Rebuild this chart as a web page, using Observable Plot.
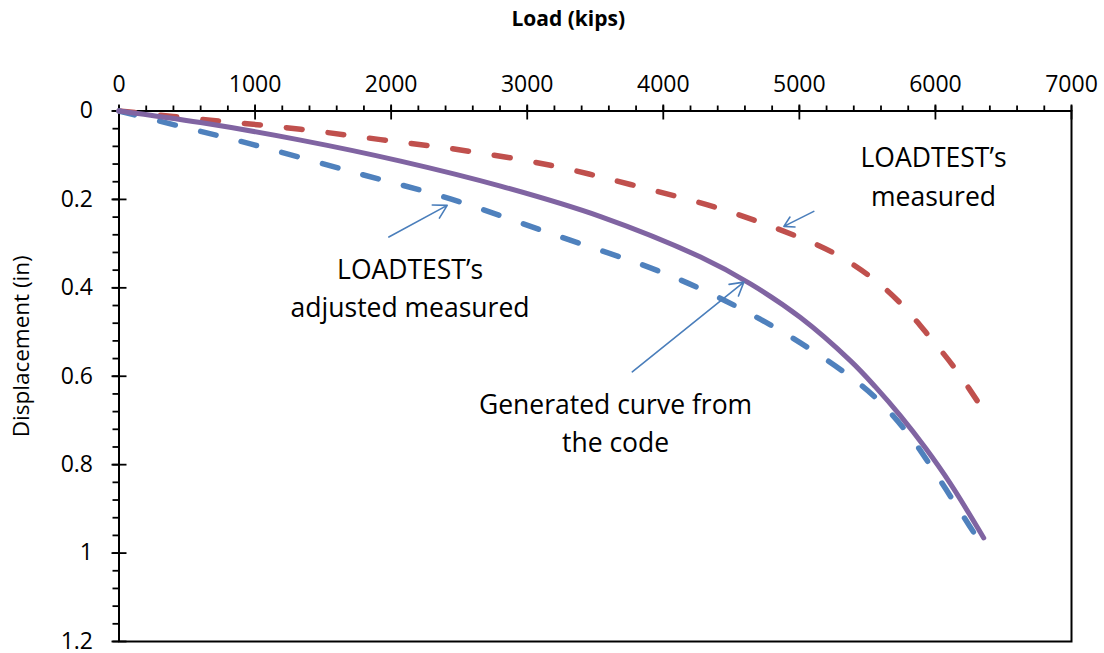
<!DOCTYPE html>
<html><head><meta charset="utf-8">
<script src="https://cdn.jsdelivr.net/npm/d3@7"></script>
<script src="https://cdn.jsdelivr.net/npm/@observablehq/plot@0.6"></script>
<style>body{margin:0;background:#fff} svg{display:block}</style>
</head><body><div id="chart"></div>
<script>
// Axis ticks
const xTicks = [0, 1000, 2000, 3000, 4000, 5000, 6000, 7000];
const xMinorTicks = [0,200,400,600,800,1000,1200,1400,1600,1800,2000,2200,2400,2600,2800,3000,3200,3400,3600,3800,4000,4200,4400,4600,4800,5000,5200,5400,5600,5800,6000,6200,6400,6600,6800,7000];
const yTicks = [0, 0.2, 0.4, 0.6, 0.8, 1, 1.2];
const yMinorTicks = [0,0.04,0.08,0.12,0.16,0.2,0.24,0.28,0.32,0.36,0.4,0.44,0.48,0.52,0.56,0.6,0.64,0.68,0.72,0.76,0.8,0.84,0.88,0.92,0.96,1,1.04,1.08,1.12,1.16,1.2];

// LOADTEST's measured (red dashed)
const measuredLoad = [0, 672, 1334, 1922, 2510, 3171, 3759, 4420, 4972, 5258, 5523, 5743, 5964, 6148, 6368];
const measuredDisp = [0, 0.0208, 0.0412, 0.0647, 0.0882, 0.1228, 0.1663, 0.2212, 0.2823, 0.3221, 0.3750, 0.4347, 0.5135, 0.5840, 0.684];

// LOADTEST's adjusted measured (blue dashed)
const adjustedLoad = [0, 489, 966, 1701, 2436, 3171, 3906, 4274, 4641, 5008, 5376, 5596, 5817, 6000, 6184, 6346];
const adjustedDisp = [0, 0.0376, 0.0744, 0.1366, 0.1988, 0.2769, 0.3549, 0.4024, 0.4589, 0.5245, 0.6014, 0.6591, 0.7372, 0.8193, 0.9068, 0.9839];

// Generated curve from the code (purple solid)
const generatedLoad = [0, 599, 1334, 2069, 2804, 3539, 4274, 4641, 5008, 5376, 5559, 5743, 5927, 6111, 6355];
const generatedDisp = [0, 0.0262, 0.0658, 0.1133, 0.1699, 0.2389, 0.3305, 0.3911, 0.4673, 0.5653, 0.6241, 0.6897, 0.7625, 0.8435, 0.9658];

// Annotations (anchored in data units)
const noteText = ["LOADTEST\u2019s\nmeasured", "LOADTEST\u2019s\nadjusted measured", "Generated curve from\nthe code"];
const noteLoad = [5986, 2139, 3649];
const noteDisp = [0.2138, 0.4664, 0.7718];

const arrowFromLoad = [5106, 1983, 3772];
const arrowFromDisp = [0.227, 0.285, 0.590];
const arrowToLoad = [4886, 2412, 4592];
const arrowToDisp = [0.261, 0.2134, 0.387];

const toRows = (xs, ys) => xs.map((x, i) => ({x, y: ys[i]}));
const measured = toRows(measuredLoad, measuredDisp);
const adjusted = toRows(adjustedLoad, adjustedDisp);
const generated = toRows(generatedLoad, generatedDisp);
const notes = noteText.map((t, i) => ({t, x: noteLoad[i], y: noteDisp[i]}));
const arrows = arrowFromLoad.map((x1, i) => ({x1, y1: arrowFromDisp[i], x2: arrowToLoad[i], y2: arrowToDisp[i]}));

const font = "'Open Sans', sans-serif";
const chart = Plot.plot({
  width: 1104, height: 653,
  marginLeft: 118.5, marginRight: 33, marginTop: 110.5, marginBottom: 12,
  style: {fontFamily: font, fontSize: "23px", background: "#fff", color: "#000", overflow: "visible"},
  x: {domain: [0, 7000]},
  y: {domain: [0, 1.2], reverse: true},
  marks: [
    Plot.axisX({anchor: "top", ticks: xMinorTicks, tickSize: 6, text: null, label: null, strokeWidth: 1.8}),
    Plot.axisX({anchor: "top", ticks: xTicks, tickSize: 7, tickPadding: 12.5, tickFormat: d => String(d), label: null, fontSize: 23, strokeWidth: 1.8}),
    Plot.axisX({anchor: "top", ticks: xTicks, tickSize: -8, text: null, label: null, strokeWidth: 1.8}),
    Plot.axisY({anchor: "left", ticks: yMinorTicks, tickSize: 6, text: null, label: null, strokeWidth: 1.8}),
    Plot.axisY({anchor: "left", ticks: yTicks, tickSize: 7, tickPadding: 19, tickFormat: d3.format("~g"), label: null, fontSize: 23, strokeWidth: 1.8}),
    Plot.axisY({anchor: "left", ticks: yTicks, tickSize: -8, text: null, label: null, strokeWidth: 1.8}),
    Plot.frame({stroke: "#000", strokeWidth: 2}),
    Plot.text(["Load (kips)"], {frameAnchor: "top", lineAnchor: "top", dy: -99.8, dx: -27, fontWeight: "bold", fontSize: 21}),
    Plot.text(["Displacement (in)"], {frameAnchor: "left", lineAnchor: "top", textAnchor: "middle", rotate: -90, dx: -105.5, dy: -30, fontSize: 22.5}),
    Plot.line(measured, {x: "x", y: "y", curve: "catmull-rom", stroke: "#C0504D", strokeWidth: 5.5, strokeDasharray: "16,26", strokeLinecap: "round"}),
    Plot.line(adjusted, {x: "x", y: "y", curve: "catmull-rom", stroke: "#4F81BD", strokeWidth: 5.5, strokeDasharray: "16,26", strokeLinecap: "round"}),
    Plot.line(generated, {x: "x", y: "y", curve: "catmull-rom", stroke: "#8064A2", strokeWidth: 5}),
    Plot.arrow(arrows, {x1: "x1", y1: "y1", x2: "x2", y2: "y2", stroke: "#4A7EBB", strokeWidth: 1.6, headLength: 14, bend: 0}),
    Plot.text(notes, {x: "x", y: "y", text: "t", lineAnchor: "bottom", textAnchor: "middle", fontSize: 26.5, lineHeight: 1.453, fill: "#000"})
  ]
});
document.getElementById("chart").appendChild(chart);
</script>
</body></html>
